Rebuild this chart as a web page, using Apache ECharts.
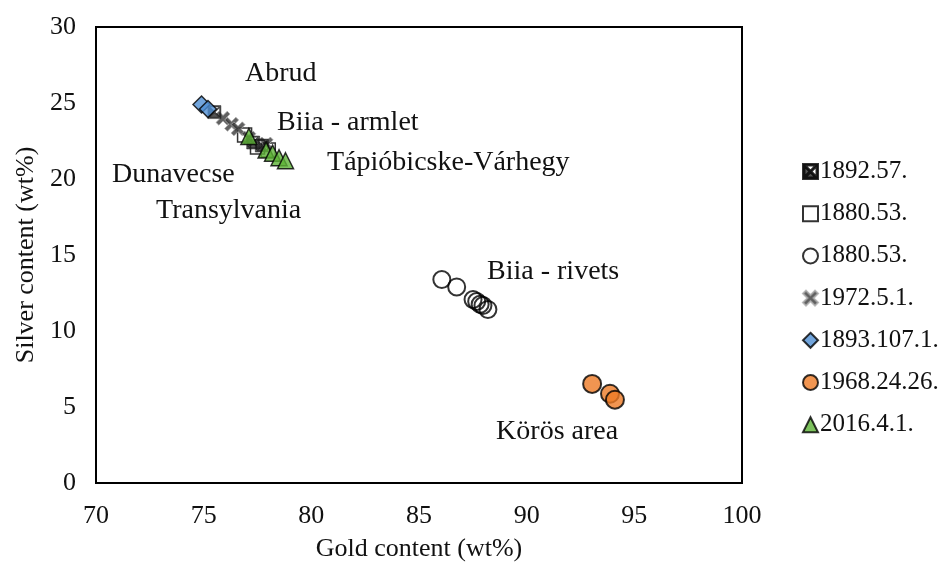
<!DOCTYPE html>
<html>
<head>
<meta charset="utf-8">
<script src="https://cdn.jsdelivr.net/npm/echarts@6/dist/echarts.min.js"></script>
<style>
  html, body { margin: 0; padding: 0; background: #fff; }
  #chart { width: 947px; height: 567px; }
</style>
</head>
<body>
<div id="chart"></div>
<script>
// Gold vs. silver content of the analysed objects, [gold wt%, silver wt%]
const s1892_57 = [[75.5, 24.4], [77.3, 22.4], [77.7, 22.2]];
const s1880_53_sq = [[76.9, 22.9], [77.5, 22.1], [78.0, 21.9]];
const s1880_53_ci = [[86.06, 13.39], [86.75, 12.9], [87.51, 12.07], [87.68, 11.94], [87.84, 11.76], [87.97, 11.68], [88.2, 11.42]];
const s1972_5_1 = [[75.9, 24.0], [76.3, 23.6], [76.6, 23.3], [77.1, 22.7], [77.9, 22.3]];
const s1893_107_1 = [[74.9, 24.9], [75.2, 24.6]];
const s1968_24_26 = [[93.04, 6.52], [93.87, 5.87], [94.1, 5.48]];
const s2016_4_1 = [[77.1, 22.8], [77.9, 21.9], [78.2, 21.7], [78.5, 21.4], [78.8, 21.2]];

// Site names anchored in data space (left edge, vertical centre)
const siteNames = ['Abrud', 'Biia - armlet', 'Tápióbicske-Várhegy', 'Dunavecse', 'Transylvania', 'Biia - rivets', 'Körös area'];
const siteAnchors = [[76.92, 26.95], [78.41, 23.7], [80.73, 21.05], [70.74, 20.28], [72.79, 17.93], [88.16, 13.88], [88.58, 3.36]];

const xTicks = { min: 70, max: 100, interval: 5 };
const yTicks = { min: 0, max: 30, interval: 5 };

const FONT = 'Liberation Serif';
const INK = '#111';

// Square with a diagonal cross, and a thick X mark
const crossSquare = 'path://M0,0H10V10H0Z M1.6,1 L5,4.4 L8.4,1 Z M9,1.6 L5.6,5 L9,8.4 Z M1.6,9 L5,5.6 L8.4,9 Z M1,1.6 L4.4,5 L1,8.4 Z';
const xMark = 'path://M2,0 L5,3 L8,0 L10,2 L7,5 L10,8 L8,10 L5,7 L2,10 L0,8 L3,5 L0,2 Z';

function pts(name, data, symbol, size, style) {
  return {
    name: name,
    type: 'scatter',
    data: data,
    symbol: symbol,
    symbolSize: size,
    itemStyle: style,
    z: 3
  };
}

const series = [
  pts('1880.53.#sq', s1880_53_sq, 'rect', 14, { color: 'rgba(255,255,255,0)', borderColor: '#000', borderWidth: 1.5 }),
  pts('1880.53.#ci', s1880_53_ci, 'circle', 17, { color: 'rgba(255,255,255,0)', borderColor: '#000', borderWidth: 2 }),
  pts('1972.5.1.', s1972_5_1, xMark, 14, { color: '#3a3a3a', borderColor: '#aaa', borderWidth: 1 }),
  pts('1892.57.', s1892_57, crossSquare, 13, { color: '#2a2a2a', borderColor: '#000', borderWidth: 0.5 }),
  pts('1893.107.1.', s1893_107_1, 'diamond', 17, { color: '#4f8fd3', borderColor: '#000', borderWidth: 1.5 }),
  pts('1968.24.26.', s1968_24_26, 'circle', 18, { color: '#ee7a26', borderColor: '#000', borderWidth: 2 }),
  pts('2016.4.1.', s2016_4_1, 'triangle', 16, { color: '#5cb336', borderColor: '#000', borderWidth: 1.5 })
];

const chart = echarts.init(document.getElementById('chart'), null, { renderer: 'canvas' });
chart.setOption({
  animation: false,
  backgroundColor: '#fff',
  textStyle: { fontFamily: FONT },
  grid: {
    left: 96, right: 205, top: 27, bottom: 80,
    show: true, borderColor: '#000', borderWidth: 2, backgroundColor: 'transparent'
  },
  legend: {
    orient: 'vertical',
    left: 797,
    top: 154,
    itemWidth: 15,
    itemHeight: 15,
    itemGap: 17.2,
    data: ['1892.57.', '1880.53.#sq', '1880.53.#ci', '1972.5.1.', '1893.107.1.', '1968.24.26.', '2016.4.1.'],
    formatter: n => n.split('#')[0],
    textStyle: { fontFamily: FONT, fontSize: 25, color: INK, padding: [0, 0, 0, -3] },
    selectedMode: false
  },
  xAxis: {
    type: 'value',
    min: xTicks.min, max: xTicks.max, interval: xTicks.interval,
    name: 'Gold content (wt%)',
    nameLocation: 'middle',
    nameGap: 53,
    nameTextStyle: { fontFamily: FONT, fontSize: 26, color: INK },
    axisLine: { show: true, lineStyle: { color: '#000', width: 2 } },
    axisTick: { show: false },
    splitLine: { show: false },
    axisLabel: { fontFamily: FONT, fontSize: 26, color: INK, margin: 20 }
  },
  yAxis: {
    type: 'value',
    min: yTicks.min, max: yTicks.max, interval: yTicks.interval,
    name: 'Silver content (wt%)',
    nameLocation: 'middle',
    nameGap: 56,
    nameTextStyle: { fontFamily: FONT, fontSize: 26, color: INK },
    axisLine: { show: true, lineStyle: { color: '#000', width: 2 } },
    axisTick: { show: false },
    splitLine: { show: false },
    axisLabel: { fontFamily: FONT, fontSize: 26, color: INK, margin: 20 }
  },
  series: series
});

// Site names, positioned through the chart's own axes
chart.setOption({
  graphic: siteNames.map((txt, i) => {
    const p = chart.convertToPixel({ gridIndex: 0 }, siteAnchors[i]);
    return {
      type: 'text',
      x: p[0],
      y: p[1],
      silent: true,
      z: 10,
      style: {
        text: txt,
        font: '28px "Liberation Serif"',
        fill: INK,
        textAlign: 'left',
        textVerticalAlign: 'middle'
      }
    };
  })
});
</script>
</body>
</html>
